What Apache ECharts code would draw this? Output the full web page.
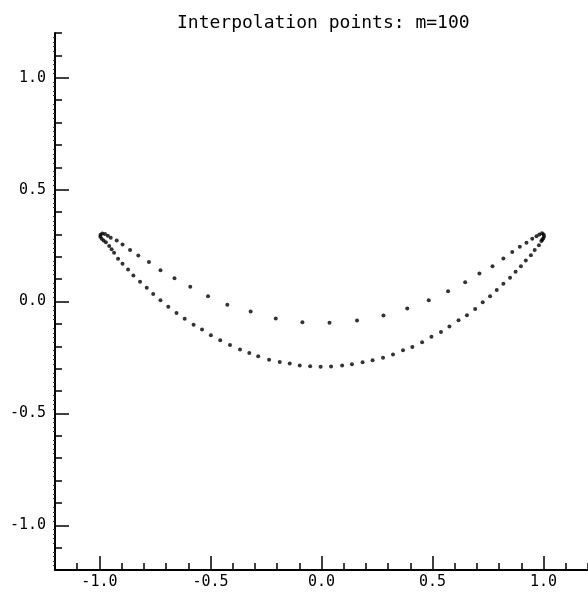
<!DOCTYPE html>
<html>
<head>
<meta charset="utf-8">
<script src="https://cdn.jsdelivr.net/npm/echarts@6/dist/echarts.min.js"></script>
<style>
  html, body { margin: 0; padding: 0; background: #fff; }
  #main { width: 588px; height: 593px; }
</style>
</head>
<body>
<div id="main"></div>
<script>
// interpolation points, [x, y]
var leftTip = [[-0.962,0.294],[-0.975,0.302],[-0.987,0.304],[-0.995,0.298],[-0.996,0.289],[-0.990,0.280],[-0.981,0.273]];
var upperArc = [[-0.949,0.285],[-0.922,0.273],[-0.896,0.255],[-0.862,0.230],[-0.825,0.206],[-0.777,0.176],[-0.725,0.140],[-0.662,0.104],[-0.591,0.066],[-0.511,0.024],[-0.424,-0.015],[-0.319,-0.045],[-0.206,-0.076],[-0.086,-0.093],[0.036,-0.095],[0.160,-0.085],[0.279,-0.063],[0.386,-0.031],[0.483,0.006],[0.570,0.046],[0.647,0.086],[0.711,0.125],[0.770,0.158],[0.819,0.192],[0.859,0.221],[0.893,0.245],[0.923,0.263],[0.949,0.281],[0.968,0.292]];
var lowerArc = [[-0.971,0.265],[-0.956,0.248],[-0.945,0.233],[-0.934,0.218],[-0.916,0.191],[-0.896,0.169],[-0.871,0.143],[-0.847,0.116],[-0.817,0.088],[-0.787,0.061],[-0.758,0.033],[-0.725,0.006],[-0.690,-0.024],[-0.653,-0.051],[-0.616,-0.077],[-0.576,-0.104],[-0.538,-0.125],[-0.498,-0.151],[-0.456,-0.173],[-0.412,-0.194],[-0.367,-0.215],[-0.325,-0.230],[-0.285,-0.245],[-0.236,-0.260],[-0.188,-0.270],[-0.143,-0.277],[-0.098,-0.286],[-0.051,-0.289],[-0.004,-0.292],[0.043,-0.291],[0.093,-0.286],[0.137,-0.280],[0.185,-0.271],[0.230,-0.263],[0.277,-0.251],[0.322,-0.237],[0.367,-0.218],[0.409,-0.203],[0.453,-0.182],[0.495,-0.158],[0.538,-0.136],[0.576,-0.112],[0.617,-0.084],[0.655,-0.061],[0.692,-0.033],[0.726,-0.003],[0.759,0.024],[0.789,0.051],[0.819,0.079],[0.849,0.106],[0.874,0.133],[0.898,0.158],[0.920,0.183],[0.943,0.207],[0.960,0.230],[0.979,0.251],[0.990,0.270]];
var rightTip = [[0.981,0.300],[0.993,0.305],[1.000,0.300],[1.002,0.291],[0.998,0.282],[0.994,0.276]];

var majorTicks = [-1.0, -0.5, 0.0, 0.5, 1.0];
var titleText = 'Interpolation points: m=100';

var FONT = 'DejaVu Sans Mono';
var chart = echarts.init(document.getElementById('main'));

function baseAxis(extra) {
    var ax = {
        type: 'value',
        min: -1.2,
        max: 1.2,
        interval: 0.1,
        splitLine: { show: false },
        axisLine: { show: true, onZero: false, lineStyle: { color: '#000', width: 2 } },
        axisTick: { show: true, inside: true, length: 7, lineStyle: { color: '#000', width: 1.5 } },
        axisLabel: { show: false }
    };
    return Object.assign(ax, extra);
}

chart.setOption({
    animation: false,
    title: {
        text: titleText,
        left: 172,
        top: 9,
        textStyle: { fontFamily: FONT, fontSize: 18, fontWeight: 'normal', color: '#000' }
    },
    grid: { left: 55, right: 0, top: 33, bottom: 23 },
    xAxis: [
        baseAxis({
            position: 'bottom',
            axisLabel: {
                show: true, customValues: majorTicks, margin: 5,
                fontFamily: FONT, fontSize: 15, color: '#000',
                formatter: function (v) { return v.toFixed(1); }
            }
        }),
        baseAxis({
            position: 'bottom',
            axisLine: { show: false, onZero: false },
            axisTick: { show: true, inside: true, length: 14, customValues: majorTicks, lineStyle: { color: '#000', width: 1.5 } }
        })
    ],
    yAxis: [
        baseAxis({
            position: 'left',
            axisLabel: {
                show: true, customValues: majorTicks, margin: 9,
                fontFamily: FONT, fontSize: 15, color: '#000',
                formatter: function (v) { return v.toFixed(1); }
            }
        }),
        baseAxis({
            position: 'left',
            axisLine: { show: false, onZero: false },
            axisTick: { show: true, inside: true, length: 14, customValues: majorTicks, lineStyle: { color: '#000', width: 1.5 } }
        }),
        // fine comb on the outside of the y axis
        baseAxis({
            position: 'left',
            axisLine: { show: false, onZero: false },
            axisTick: { show: false, inside: false },
            minorTick: { show: true, splitNumber: 5, length: 2, lineStyle: { color: '#333', width: 1 } }
        })
    ],
    series: [{
        type: 'scatter',
        xAxisIndex: 0,
        yAxisIndex: 0,
        symbol: 'circle',
        symbolSize: 4,
        itemStyle: { color: '#000' },
        data: leftTip.concat(upperArc, lowerArc, rightTip)
    }]
});
</script>
</body>
</html>
